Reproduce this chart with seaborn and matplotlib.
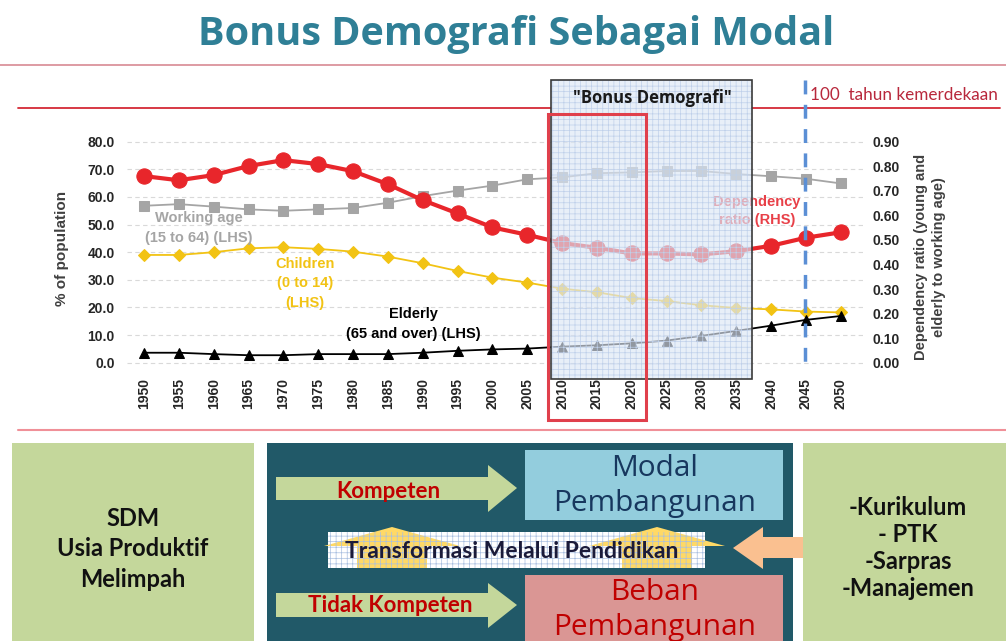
import matplotlib
matplotlib.use("Agg")
import numpy as np
import pandas as pd
import seaborn as sns
import matplotlib.pyplot as plt
from matplotlib.patches import Rectangle, Polygon

# data
years = [1950, 1955, 1960, 1965, 1970, 1975, 1980, 1985, 1990, 1995, 2000,
         2005, 2010, 2015, 2020, 2025, 2030, 2035, 2040, 2045, 2050]
working_age = [56.8, 57.4, 56.5, 55.5, 55.0, 55.5, 56.0, 57.9, 60.3, 62.3, 64.1,
               66.4, 67.1, 68.6, 68.9, 69.4, 69.4, 68.3, 67.5, 66.6, 64.9]
children = [39.0, 39.0, 40.0, 41.4, 41.8, 41.2, 40.2, 38.4, 36.0, 33.2, 30.8,
            29.0, 26.8, 25.5, 23.4, 22.3, 20.8, 19.8, 19.3, 18.5, 18.2]
elderly = [3.6, 3.6, 3.1, 2.7, 2.7, 3.1, 3.1, 3.1, 3.6, 4.3, 4.8,
           5.1, 5.8, 6.3, 7.0, 8.0, 9.7, 11.5, 13.4, 15.5, 16.9]
dependency = [0.760, 0.743, 0.764, 0.801, 0.825, 0.809, 0.780, 0.727, 0.662, 0.608, 0.551,
              0.521, 0.487, 0.468, 0.445, 0.445, 0.441, 0.454, 0.476, 0.509, 0.531]

left_ticks = [0, 10, 20, 30, 40, 50, 60, 70, 80]
right_ticks = [0.0, 0.1, 0.2, 0.3, 0.4, 0.5, 0.6, 0.7, 0.8, 0.9]

df = pd.DataFrame({"year": years, "working": working_age, "children": children,
                   "elderly": elderly, "dependency": dependency})

sns.set_style("white")
plt.rcParams["font.family"] = ["Liberation Sans", "DejaVu Sans"]
plt.rcParams["hatch.linewidth"] = 0.5

W, H = 1006, 641
fig = plt.figure(figsize=(W / 100, H / 100), dpi=100)


def px_axes(l, t, r, b):
    return fig.add_axes([l / W, 1 - b / H, (r - l) / W, (b - t) / H])


def fx(x):
    return x / W


def fy(y):
    return 1 - y / H


# ---- chart ----
ax = px_axes(127, 136.2, 863, 368.2)
ax2 = ax.twinx()

sns.lineplot(data=df, x="year", y="working", ax=ax, color="#A5A5A5", marker="s",
             markersize=7, markeredgecolor="#A5A5A5", linewidth=1.3)
sns.lineplot(data=df, x="year", y="children", ax=ax, color="#F2C314", marker="D",
             markersize=6, markeredgecolor="#F2C314", linewidth=1.3)
sns.lineplot(data=df, x="year", y="elderly", ax=ax, color="black", marker="^",
             markersize=7, markeredgecolor="black", linewidth=1.3)
sns.lineplot(data=df, x="year", y="dependency", ax=ax2, color="#E8262B", marker="o",
             markersize=11, markeredgecolor="#E8262B", linewidth=3)

ax.set_xlim(1947.56, 2053.2)
ax.set_ylim(-2, 82)
ax2.set_ylim(-2 / 88.89, 82 / 88.89)

ax.set_yticks(left_ticks)
ax.set_yticklabels([f"{v:.1f}" for v in left_ticks], fontweight="bold", fontsize=10, color="#262626")
ax2.set_yticks(right_ticks)
ax2.set_yticklabels([f"{v:.2f}" for v in right_ticks], fontweight="bold", fontsize=10, color="#262626")
ax.set_xticks(years)
ax.set_xticklabels([str(y) for y in years], rotation=90, fontweight="bold", fontsize=10, color="#262626")
ax.tick_params(axis="both", length=0)
ax.tick_params(axis="y", pad=9)
ax.tick_params(axis="x", pad=7)
ax2.tick_params(axis="y", length=0, pad=7)
ax.yaxis.grid(True, linestyle=(0, (4, 3)), color="#D9D9D9", linewidth=0.8)
ax2.grid(False)
for a in (ax, ax2):
    for s in a.spines.values():
        s.set_visible(False)
    a.set_xlabel("")
    a.set_ylabel("")
    a.patch.set_alpha(0)

fig.text(fx(62), fy(248), "% of population", rotation=90, ha="center", va="center",
         fontsize=11, fontweight="bold", color="#404040")
fig.text(fx(930), fy(257), "Dependency ratio (young and\nelderly to working age)", rotation=90,
         ha="center", va="center", fontsize=10.5, fontweight="bold", color="#404040",
         multialignment="center", linespacing=1.3)

# series labels (drawn under the highlight box)
lab = dict(transform=fig.transFigure, ha="center", va="center", fontsize=10.5, fontweight="bold")
ax.text(fx(199), fy(228), "Working age\n(15 to 64) (LHS)", color="#A5A5A5", linespacing=1.5, **lab)
ax.text(fx(305), fy(283), "Children\n(0 to 14)\n(LHS)", color="#F2C314", linespacing=1.5, **lab)
ax.text(fx(413), fy(324), "Elderly\n(65 and over) (LHS)", color="black", linespacing=1.55, **lab)
ax.text(fx(757), fy(211), "Dependency\nratio (RHS)", color="#E84048", linespacing=1.4, **lab)

# red lines across the chart area
ax.plot([fx(18), fx(551)], [fy(107.5)] * 2, transform=fig.transFigure, color="#D42A36",
        linewidth=1.3, clip_on=False)
ax.plot([fx(752), fx(1000)], [fy(107.5)] * 2, transform=fig.transFigure, color="#D42A36",
        linewidth=1.3, clip_on=False)

# ---- overlay for boxes, title and the lower panel ----
ov = fig.add_axes([0, 0, 1, 1])
ov.set_xlim(0, W)
ov.set_ylim(H, 0)
ov.axis("off")
ov.patch.set_alpha(0)

ov.text(516, 35, "Bonus Demografi Sebagai Modal", ha="center", va="center", fontsize=28.5,
        fontweight="bold", color="#2F7F96", family=["Open Sans", "DejaVu Sans"])
ov.plot([0, W], [65, 65], color="#D88A93", linewidth=1.2)
ov.plot([18, W], [430, 430], color="#F09098", linewidth=1.5)

# "Bonus Demografi" highlight box
ov.add_patch(Rectangle((551, 80), 201, 299, facecolor="#DDE7F5", alpha=0.66, edgecolor="none", zorder=2))
ov.add_patch(Rectangle((551, 80), 201, 299, facecolor="none", edgecolor="#BFD0EA", hatch="+++",
                       linewidth=0, zorder=3))
ov.add_patch(Rectangle((551, 80), 201, 299, facecolor="none", edgecolor="#3A3A3A", linewidth=1.2, zorder=4))
ov.text(652, 98, "\"Bonus Demografi\"", ha="center", va="center", fontsize=12, fontweight="bold",
        color="#1A1A1A", family=["Open Sans", "DejaVu Sans"], zorder=5)
ov.add_patch(Rectangle((548, 114), 98, 306, facecolor="none", edgecolor="#E0404C", linewidth=2.2, zorder=5))

ov.plot([805, 805], [80, 365], color="#5B8FD5", linewidth=2.5, dashes=(4, 3), zorder=5)
ov.text(810, 95, "100  tahun kemerdekaan", ha="left", va="center", fontsize=12.3, color="#B8283C",
        family=["Lato", "DejaVu Sans"], zorder=5)

# lower panel
calibri = ["Lato", "DejaVu Sans"]
ov.add_patch(Rectangle((12, 443), 242, 200, facecolor="#C4D79B", edgecolor="none"))
ov.add_patch(Rectangle((267, 443), 526, 200, facecolor="#215968", edgecolor="none"))
ov.add_patch(Rectangle((803, 443), 205, 200, facecolor="#C4D79B", edgecolor="none"))

ov.text(133, 549, "SDM\nUsia Produktif\nMelimpah", ha="center", va="center", fontsize=17,
        fontweight="bold", color="#111111", linespacing=1.42, family=calibri)
ov.text(908, 548, "-Kurikulum\n- PTK\n-Sarpras\n-Manajemen", ha="center", va="center", fontsize=17,
        fontweight="bold", color="#111111", linespacing=1.2, family=calibri)

ov.add_patch(Rectangle((525, 450), 258, 70, facecolor="#93CDDD", edgecolor="none"))
ov.add_patch(Rectangle((525, 575), 258, 70, facecolor="#DA9694", edgecolor="none"))
box_font = dict(ha="center", va="center", fontsize=21.5, family=["Open Sans", "DejaVu Sans"])
ov.text(655, 469, "Modal", color="#17375E", **box_font)
ov.text(655, 503, "Pembangunan", color="#17375E", **box_font)
ov.text(655, 593, "Beban", color="#C00000", **box_font)
ov.text(655, 627, "Pembangunan", color="#C00000", **box_font)

green = "#C4D79B"
ov.add_patch(Polygon([(276, 477), (488, 477), (488, 465), (517, 488), (488, 512), (488, 500), (276, 500)],
                     facecolor=green, edgecolor="none"))
ov.add_patch(Polygon([(276, 593), (488, 593), (488, 583), (517, 605), (488, 628), (488, 617), (276, 617)],
                     facecolor=green, edgecolor="none"))
ov.text(388, 491, "Kompeten", ha="center", va="center", fontsize=16, fontweight="bold",
        color="#C00000", family=calibri)
ov.text(390, 606, "Tidak Kompeten", ha="center", va="center", fontsize=16, fontweight="bold",
        color="#C00000", family=calibri)

yellow = "#FFD966"
ov.add_patch(Rectangle((328, 532), 377, 36, facecolor="#FFFFFF", edgecolor="none"))
for cx in (392, 657):
    ov.add_patch(Polygon([(cx - 35, 568), (cx - 35, 546), (cx - 68, 546), (cx, 527), (cx + 68, 546),
                          (cx + 35, 546), (cx + 35, 568)], facecolor=yellow, edgecolor="none"))
ov.add_patch(Rectangle((328, 532), 377, 36, facecolor="none", edgecolor="#A9BFE0", hatch="+++",
                       linewidth=0))
ov.text(512, 551, "Transformasi Melalui Pendidikan", ha="center", va="center", fontsize=16.5,
        color="#1B1B3A", fontweight="bold", family=calibri)
ov.add_patch(Polygon([(803, 537), (763, 537), (763, 527), (733, 548), (763, 569), (763, 558), (803, 558)],
                     facecolor="#FAC090", edgecolor="none"))

fig.savefig("out.png", dpi=100)
